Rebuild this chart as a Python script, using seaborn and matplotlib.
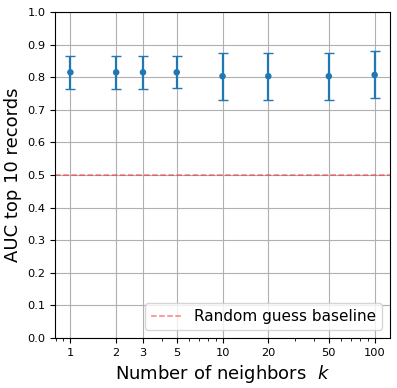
import numpy as np
import matplotlib
matplotlib.use("Agg")
import matplotlib.pyplot as plt
import pandas as pd
import seaborn as sns

neighbors = [1, 2, 3, 5, 10, 20, 50, 100]
auc_mean = [0.815, 0.815, 0.815, 0.815, 0.803, 0.803, 0.803, 0.807]
auc_err = [0.051, 0.051, 0.051, 0.049, 0.072, 0.072, 0.072, 0.072]
baseline = 0.5

df = pd.DataFrame({"k": neighbors, "auc": auc_mean, "err": auc_err})

fig, ax = plt.subplots(figsize=(3.97, 3.88), dpi=100)
ax.errorbar(df["k"], df["auc"], yerr=df["err"], fmt="none",
            ecolor="#1f77b4", elinewidth=1.6, capsize=3.6, capthick=1.0, zorder=3)
sns.scatterplot(data=df, x="k", y="auc", ax=ax, color="#1f77b4",
                s=22, edgecolor="none", zorder=4)
ax.axhline(baseline, color="red", linestyle="--", alpha=0.5, linewidth=1.1,
           label="Random guess baseline")

ax.set_xscale("log")
ax.set_xticks(neighbors)
ax.set_xticklabels([str(k) for k in neighbors])
ax.set_ylim(0, 1)
ax.set_yticks(np.arange(0, 1.01, 0.1))
ax.grid(True, which="major", color="#b0b0b0", linewidth=0.8)
ax.set_axisbelow(True)
ax.tick_params(labelsize=8.2)
ax.set_xlabel(r"Number of neighbors  $k$", fontsize=13)
ax.set_ylabel("AUC top 10 records", fontsize=13)
ax.legend(loc="lower right", fontsize=11)

fig.subplots_adjust(left=0.139, right=0.982, top=0.969, bottom=0.129)
fig.savefig("out.png", dpi=100)
